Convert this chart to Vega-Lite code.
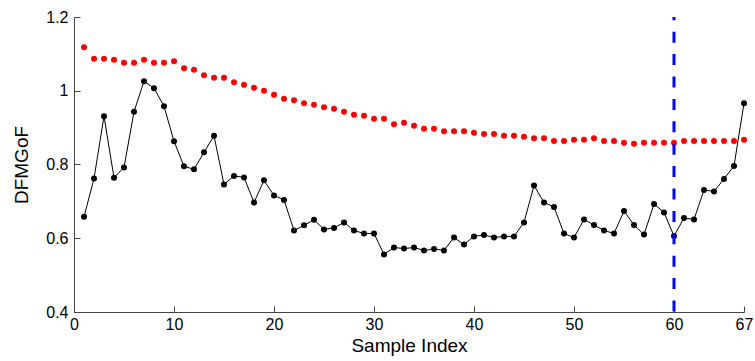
{
  "$schema": "https://vega.github.io/schema/vega-lite/v6.json",
  "width": 670,
  "height": 295,
  "autosize": {"type": "none"},
  "padding": {"left": 74, "top": 17, "right": 11, "bottom": 49},
  "background": "white",
  "config": {
    "view": {"stroke": null},
    "font": "Liberation Sans",
    "axis": {
      "grid": false,
      "domainColor": "#444444",
      "tickColor": "#444444",
      "labelColor": "#000000",
      "titleColor": "#000000",
      "labelFont": "Liberation Sans",
      "titleFont": "Liberation Sans",
      "labelFontSize": 16,
      "titleFontSize": 19,
      "titleFontWeight": "normal",
      "tickSize": -6,
      "domainWidth": 1,
      "tickWidth": 1
    }
  },
  "datasets": {
    "series": [
      {"idx": 1, "dfmgof": 0.658, "threshold": 1.118},
      {"idx": 2, "dfmgof": 0.762, "threshold": 1.087},
      {"idx": 3, "dfmgof": 0.931, "threshold": 1.087},
      {"idx": 4, "dfmgof": 0.764, "threshold": 1.084},
      {"idx": 5, "dfmgof": 0.792, "threshold": 1.076},
      {"idx": 6, "dfmgof": 0.943, "threshold": 1.076},
      {"idx": 7, "dfmgof": 1.026, "threshold": 1.084},
      {"idx": 8, "dfmgof": 1.007, "threshold": 1.076},
      {"idx": 9, "dfmgof": 0.958, "threshold": 1.076},
      {"idx": 10, "dfmgof": 0.863, "threshold": 1.080},
      {"idx": 11, "dfmgof": 0.795, "threshold": 1.061},
      {"idx": 12, "dfmgof": 0.787, "threshold": 1.057},
      {"idx": 13, "dfmgof": 0.833, "threshold": 1.042},
      {"idx": 14, "dfmgof": 0.878, "threshold": 1.035},
      {"idx": 15, "dfmgof": 0.746, "threshold": 1.035},
      {"idx": 16, "dfmgof": 0.769, "threshold": 1.023},
      {"idx": 17, "dfmgof": 0.765, "threshold": 1.016},
      {"idx": 18, "dfmgof": 0.697, "threshold": 1.008},
      {"idx": 19, "dfmgof": 0.757, "threshold": 1.000},
      {"idx": 20, "dfmgof": 0.716, "threshold": 0.989},
      {"idx": 21, "dfmgof": 0.704, "threshold": 0.978},
      {"idx": 22, "dfmgof": 0.621, "threshold": 0.974},
      {"idx": 23, "dfmgof": 0.635, "threshold": 0.966},
      {"idx": 24, "dfmgof": 0.650, "threshold": 0.962},
      {"idx": 25, "dfmgof": 0.624, "threshold": 0.955},
      {"idx": 26, "dfmgof": 0.628, "threshold": 0.951},
      {"idx": 27, "dfmgof": 0.643, "threshold": 0.943},
      {"idx": 28, "dfmgof": 0.621, "threshold": 0.935},
      {"idx": 29, "dfmgof": 0.613, "threshold": 0.932},
      {"idx": 30, "dfmgof": 0.613, "threshold": 0.924},
      {"idx": 31, "dfmgof": 0.556, "threshold": 0.924},
      {"idx": 32, "dfmgof": 0.575, "threshold": 0.909},
      {"idx": 33, "dfmgof": 0.572, "threshold": 0.913},
      {"idx": 34, "dfmgof": 0.575, "threshold": 0.905},
      {"idx": 35, "dfmgof": 0.567, "threshold": 0.897},
      {"idx": 36, "dfmgof": 0.571, "threshold": 0.897},
      {"idx": 37, "dfmgof": 0.567, "threshold": 0.890},
      {"idx": 38, "dfmgof": 0.602, "threshold": 0.890},
      {"idx": 39, "dfmgof": 0.583, "threshold": 0.890},
      {"idx": 40, "dfmgof": 0.605, "threshold": 0.886},
      {"idx": 41, "dfmgof": 0.609, "threshold": 0.883},
      {"idx": 42, "dfmgof": 0.602, "threshold": 0.883},
      {"idx": 43, "dfmgof": 0.605, "threshold": 0.878},
      {"idx": 44, "dfmgof": 0.605, "threshold": 0.878},
      {"idx": 45, "dfmgof": 0.643, "threshold": 0.875},
      {"idx": 46, "dfmgof": 0.743, "threshold": 0.871},
      {"idx": 47, "dfmgof": 0.697, "threshold": 0.871},
      {"idx": 48, "dfmgof": 0.685, "threshold": 0.864},
      {"idx": 49, "dfmgof": 0.613, "threshold": 0.864},
      {"idx": 50, "dfmgof": 0.602, "threshold": 0.867},
      {"idx": 51, "dfmgof": 0.651, "threshold": 0.867},
      {"idx": 52, "dfmgof": 0.636, "threshold": 0.871},
      {"idx": 53, "dfmgof": 0.621, "threshold": 0.864},
      {"idx": 54, "dfmgof": 0.613, "threshold": 0.864},
      {"idx": 55, "dfmgof": 0.674, "threshold": 0.859},
      {"idx": 56, "dfmgof": 0.636, "threshold": 0.856},
      {"idx": 57, "dfmgof": 0.610, "threshold": 0.859},
      {"idx": 58, "dfmgof": 0.693, "threshold": 0.859},
      {"idx": 59, "dfmgof": 0.670, "threshold": 0.859},
      {"idx": 60, "dfmgof": 0.606, "threshold": 0.859},
      {"idx": 61, "dfmgof": 0.655, "threshold": 0.864},
      {"idx": 62, "dfmgof": 0.651, "threshold": 0.864},
      {"idx": 63, "dfmgof": 0.731, "threshold": 0.864},
      {"idx": 64, "dfmgof": 0.727, "threshold": 0.864},
      {"idx": 65, "dfmgof": 0.761, "threshold": 0.864},
      {"idx": 66, "dfmgof": 0.796, "threshold": 0.864},
      {"idx": 67, "dfmgof": 0.966, "threshold": 0.867}
    ],
    "marker": [{"idx": 60}]
  },
  "layer": [
    {
      "data": {"name": "series"},
      "mark": {"type": "circle", "color": "#ff0000", "opacity": 1, "size": 36},
      "encoding": {
        "x": {
          "field": "idx", "type": "quantitative",
          "scale": {"domain": [0, 67], "nice": false, "zero": false},
          "axis": {"title": "Sample Index", "values": [0, 10, 20, 30, 40, 50, 60, 67], "labelPadding": 10, "titlePadding": 4, "labelFlush": false}
        },
        "y": {
          "field": "threshold", "type": "quantitative",
          "scale": {"domain": [0.4, 1.2], "nice": false, "zero": false},
          "axis": {"title": "DFMGoF", "values": [0.4, 0.6, 0.8, 1.0, 1.2], "format": "~g", "labelPadding": 12, "titlePadding": 14, "labelFlush": false}
        }
      }
    },
    {
      "data": {"name": "series"},
      "mark": {"type": "line", "color": "#000000", "strokeWidth": 1, "point": {"filled": true, "color": "#000000", "size": 36, "opacity": 1}},
      "encoding": {
        "x": {"field": "idx", "type": "quantitative"},
        "y": {"field": "dfmgof", "type": "quantitative"}
      }
    },
    {
      "data": {"name": "marker"},
      "mark": {"type": "rule", "color": "#0000ff", "strokeWidth": 3, "strokeDash": [11, 11.4], "strokeDashOffset": 7.7},
      "encoding": {
        "x": {"field": "idx", "type": "quantitative"}
      }
    }
  ]
}
